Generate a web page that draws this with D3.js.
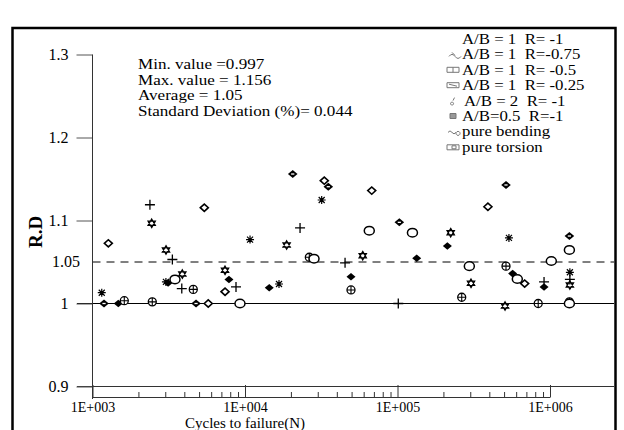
<!DOCTYPE html>
<html><head><meta charset="utf-8">
<script src="https://cdn.jsdelivr.net/npm/d3@7"></script>
<style>
body{margin:0;background:#fff}
svg{display:block}
text{font-family:"Liberation Serif","Times New Roman",serif;fill:#000}
.leg{white-space:pre}
</style>
</head><body>
<svg id="c" width="624" height="430"></svg>
<script>
// ---- data ----
const legendLabels = ["A/B = 1  R= -1","A/B = 1  R=-0.75","A/B = 1  R= -0.5","A/B = 1  R= -0.25","A/B = 2  R= -1","A/B=0.5  R=-1","pure bending","pure torsion"];
const xTickValues = [1e3,1e4,1e5,1e6];
const xTickLabels = ["1E+003","1E+004","1E+005","1E+006"];
const yTickValues = [0.9,1.0,1.1,1.2,1.3];
const yTickLabels = ["0.9","1","1.1","1.2","1.3"];
const statsLines = ["Min. value =0.997","Max. value = 1.156","Average = 1.05","Standard Deviation (%)= 0.044"];
const meanValue = 1.05;
const refValue = 1.0;

const plusPts = [[2380,1.119],[3340,1.053],[3850,1.018],[8730,1.020],[22960,1.091],[45300,1.049],[101200,1.0],[1350000,1.029],[914000,1.026]];
const asteriskPts = [[1150,1.013],[3030,1.026],[10790,1.077],[16710,1.0235],[31830,1.1247],[538000,1.079],[1350000,1.0376]];
const openDiamondPts = [[1270,1.0725],[5410,1.1154],[7400,1.0142],[5740,1.0],[33110,1.148],[67770,1.136],[391600,1.1166],[682000,1.024]];
const filledDiamondPts = [[1476,1.0],[3130,1.0247],[7850,1.029],[14420,1.019],[49550,1.0323],[133600,1.0545],[212300,1.0693],[569000,1.036],[914000,1.0199]];
const circlePlusPts = [[1616,1.0034],[2466,1.002],[4580,1.017],[26410,1.0557],[49550,1.0163],[263700,1.0075],[514600,1.045],[837000,1.0],[1340000,1.002]];
const openCirclePts = [[3474,1.029],[9270,1.0],[28350,1.054],[65300,1.0877],[125300,1.0853],[295800,1.045],[610400,1.0295],[1020000,1.0512],[1340000,1.0645],[1340000,1.0]];
const starPts = [[2444,1.0966],[3034,1.0645],[3881,1.0355],[7395,1.040],[18750,1.0705],[59160,1.0576],[223300,1.0853],[303400,1.0243],[507300,0.997],[1350000,1.0223]];
const diamondPlusPts = [[1190,1.0],[4775,1.0],[20560,1.156],[35170,1.1407],[102800,1.0978],[514600,1.1428],[1340000,1.0813]];

const series = [
  {type:"plus", pts:plusPts},
  {type:"asterisk", pts:asteriskPts},
  {type:"openDiamond", pts:openDiamondPts},
  {type:"filledDiamond", pts:filledDiamondPts},
  {type:"circlePlus", pts:circlePlusPts},
  {type:"openCircle", pts:openCirclePts},
  {type:"star", pts:starPts},
  {type:"diamondPlus", pts:diamondPlusPts}
];

// ---- drawing ----
const svg = d3.select("#c");
const x = d3.scaleLog().domain([1e3,1e6]).range([92.5,550]);
const y = d3.scaleLinear().domain([0.9,1.3]).range([386.5,54.5]);
const axisY = 397;
const rightEnd = 614;

// frame
svg.append("rect").attr("x",12.5).attr("y",28).attr("width",603).attr("height",420)
  .attr("fill","none").attr("stroke","#000").attr("stroke-width",2.5);

// horizontal reference lines
svg.append("line").attr("x1",77).attr("x2",rightEnd).attr("y1",y(refValue)).attr("y2",y(refValue))
  .attr("stroke","#000").attr("stroke-width",1);
svg.append("line").attr("x1",x(1e3)).attr("x2",rightEnd).attr("y1",y(meanValue)).attr("y2",y(meanValue))
  .attr("stroke","#000").attr("stroke-width",1).attr("stroke-dasharray","8,6");
svg.append("line").attr("x1",77).attr("x2",rightEnd).attr("y1",y(0.9)).attr("y2",y(0.9))
  .attr("stroke","#333").attr("stroke-width",1);

// y axis
const yAxis = d3.axisLeft(y).tickValues(yTickValues).tickSize(16).tickPadding(8)
  .tickFormat((d,i)=>yTickLabels[i]);
const gy = svg.append("g").attr("transform",`translate(${x(1e3)},0)`).call(yAxis);
gy.select(".domain").remove();
gy.selectAll(".tick line").attr("stroke","#555");
gy.selectAll(".tick text").attr("font-size",16).attr("font-family","Liberation Serif, serif").attr("fill","#000");
svg.append("line").attr("x1",x(1e3)).attr("x2",x(1e3)).attr("y1",y(1.3)).attr("y2",axisY+2)
  .attr("stroke","#333").attr("stroke-width",1);
svg.append("text").attr("x",80).attr("y",y(meanValue)).attr("dy","0.32em")
  .attr("text-anchor","end").attr("font-size",16).text("1.05");

// x axis
const xAxis = d3.axisBottom(x).tickValues(xTickValues).tickSizeInner(-12).tickSizeOuter(0).tickPadding(5)
  .tickFormat((d,i)=>xTickLabels[i]);
const gx = svg.append("g").attr("transform",`translate(0,${axisY})`).call(xAxis);
gx.select(".domain").attr("stroke","#333");
gx.selectAll(".tick line").attr("stroke","#333");
gx.selectAll(".tick text").attr("font-size",14).attr("font-family","Liberation Serif, serif").attr("fill","#000");
const minorVals = [];
for (let k=3;k<6;k++) for (let m=2;m<10;m++) minorVals.push(m*Math.pow(10,k));
const xMinor = d3.axisBottom(x).tickValues(minorVals).tickSizeInner(-5).tickSizeOuter(0).tickFormat("");
const gxm = svg.append("g").attr("transform",`translate(0,${axisY})`).call(xMinor);
gxm.select(".domain").remove();
gxm.selectAll(".tick line").attr("stroke","#333");

// axis titles
svg.append("text").attr("x",245).attr("y",428).attr("text-anchor","middle").attr("font-size",15)
  .text("Cycles to failure(N)");
svg.append("text").attr("transform","translate(42,232) rotate(-90)").attr("text-anchor","middle")
  .attr("font-size",19).attr("font-weight","bold").text("R.D");

// stats text (horizontally stretched like the reference)
svg.append("g").selectAll("text").data(statsLines).join("text")
  .attr("transform",(d,i)=>`translate(138,${69+i*15.5}) scale(1.22,1)`)
  .attr("font-size",14).text(d=>d);

// symbols
function drawSymbol(g, type){
  const k="#000";
  switch(type){
    case "plus":
      g.append("path").attr("d","M-5,0H5M0,-5V5").attr("stroke",k).attr("stroke-width",1.3).attr("fill","none"); break;
    case "asterisk":
      g.append("path").attr("d","M-4,0H4M0,-4V4M-3,-3L3,3M-3,3L3,-3").attr("stroke",k).attr("stroke-width",1.2).attr("fill","none"); break;
    case "openDiamond":
      g.append("path").attr("d","M-4,0L0,-3.6L4,0L0,3.6Z").attr("stroke",k).attr("stroke-width",1.6).attr("fill","#fff"); break;
    case "filledDiamond":
      g.append("path").attr("d","M-4.5,0L0,-3.8L4.5,0L0,3.8Z").attr("fill",k); break;
    case "circlePlus":
      g.append("circle").attr("r",4).attr("stroke",k).attr("stroke-width",1.3).attr("fill","#fff");
      g.append("path").attr("d","M-4,0H4M0,-4V4").attr("stroke",k).attr("stroke-width",1.1); break;
    case "openCircle":
      g.append("ellipse").attr("rx",5).attr("ry",4.3).attr("stroke",k).attr("stroke-width",1.5).attr("fill","#fff"); break;
    case "star":
      g.append("path").attr("d","M0,-4.3L3.7,2.15L-3.7,2.15ZM0,4.3L3.7,-2.15L-3.7,-2.15Z").attr("stroke",k).attr("stroke-width",1.2).attr("fill","#fff"); break;
    case "diamondPlus":
      g.append("path").attr("d","M-4.8,0L0,-4L4.8,0L0,4Z").attr("fill",k);
      g.append("path").attr("d","M-1.6,0H1.6").attr("stroke","#fff").attr("stroke-width",1.3); break;
  }
}
series.forEach(s=>{
  svg.append("g").selectAll("g").data(s.pts).join("g")
    .attr("transform",d=>`translate(${x(d[0])},${y(d[1])})`)
    .each(function(){ drawSymbol(d3.select(this), s.type); });
});

// legend
const legY0 = 39, legDy = 15.4;
const lg = svg.append("g");
lg.selectAll("text").data(legendLabels).join("text")
  .attr("class","leg")
  .attr("transform",(d,i)=>`translate(${i===4 ? 464 : 462},${legY0+i*legDy}) scale(1.2,1)`)
  .attr("dy","0.35em").attr("font-size",14).text(d=>d);
const iconPaths = [
  "",
  "M449,2 q3,-4 6,0 q3,4 6,0 M452,-2 l3,3",
  "M447,-2.5h12v5h-12z M453,-2.5v5",
  "M447,-2.5h12v5h-12z M449,-1l8,2",
  "M452,1.5a1.5,1.5 0 1,0 0.1,0 M453,0l1.5,-3",
  "M450,-2.5h6v5h-6z",
  "M448,1 q2,-3 4,0 q2,3 4,0 M458,0a2,2 0 1,0 0.1,0",
  "M447,-2h12v5h-12z M452,-1h4v3h-4z"
];
iconPaths.forEach((p,i)=>{
  if(!p) return;
  lg.append("path").attr("d",p).attr("transform",`translate(0,${legY0+i*legDy})`)
    .attr("fill",i===5?"#999":"none").attr("stroke","#777").attr("stroke-width",1);
});
</script>
</body></html>
